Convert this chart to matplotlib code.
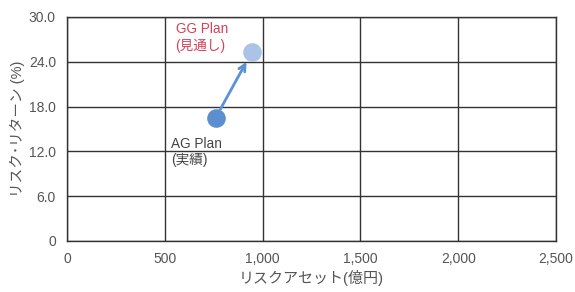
import matplotlib
matplotlib.use('Agg')
import matplotlib.pyplot as plt

plt.rcParams['font.family'] = ['Liberation Sans', 'Noto Sans CJK JP', 'DejaVu Sans']

# data
plans = ['AG Plan', 'GG Plan']
plan_notes = ['(実績)', '(見通し)']
risk_assets = [760, 945]      # 億円
risk_return = [16.5, 25.3]    # %
xticks = [0, 500, 1000, 1500, 2000, 2500]
xtick_labels = ['0', '500', '1,000', '1,500', '2,000', '2,500']
yticks = [0, 6, 12, 18, 24, 30]
ytick_labels = ['0', '6.0', '12.0', '18.0', '24.0', '30.0']

fig = plt.figure(figsize=(5.75, 2.92), dpi=100)
ax = fig.add_axes([0.1165, 0.175, 0.8505, 0.767])

ax.set_xlim(0, 2500)
ax.set_ylim(0, 30)
ax.set_xticks(xticks)
ax.set_xticklabels(xtick_labels)
ax.set_yticks(yticks)
ax.set_yticklabels(ytick_labels)
ax.grid(True, color='#333333', linewidth=1.0)
ax.set_axisbelow(True)
for s in ax.spines.values():
    s.set_color('#333333')
    s.set_linewidth(1.0)
ax.tick_params(length=0, labelsize=10, colors='#555555', pad=8)

ax.annotate('', xy=(risk_assets[1], risk_return[1]), xytext=(risk_assets[0], risk_return[0]),
            arrowprops=dict(arrowstyle='->', color='#5b92d5', lw=2, shrinkA=7, shrinkB=8,
                            mutation_scale=12), zorder=3)
ax.scatter(risk_assets[0], risk_return[0], s=180, color='#5b8fd0', zorder=4, linewidths=0)
ax.scatter(risk_assets[1], risk_return[1], s=180, color='#aac3e6', zorder=4, linewidths=0)

ax.text(risk_assets[0] - 230, risk_return[0] - 2.6, plans[0] + '\n' + plan_notes[0],
        fontsize=9.8, color='#444444', va='top', ha='left', linespacing=1.2)
ax.text(risk_assets[1] - 390, risk_return[1] + 4.0, plans[1] + '\n' + plan_notes[1],
        fontsize=9.8, color='#d6405a', va='top', ha='left', linespacing=1.2)

ax.set_xlabel('リスクアセット(億円)', fontsize=10.8, color='#555555', labelpad=3)
ax.set_ylabel('リスク･リターン (%)', fontsize=10.5, color='#555555', labelpad=3)

fig.savefig('out.png', dpi=100)
